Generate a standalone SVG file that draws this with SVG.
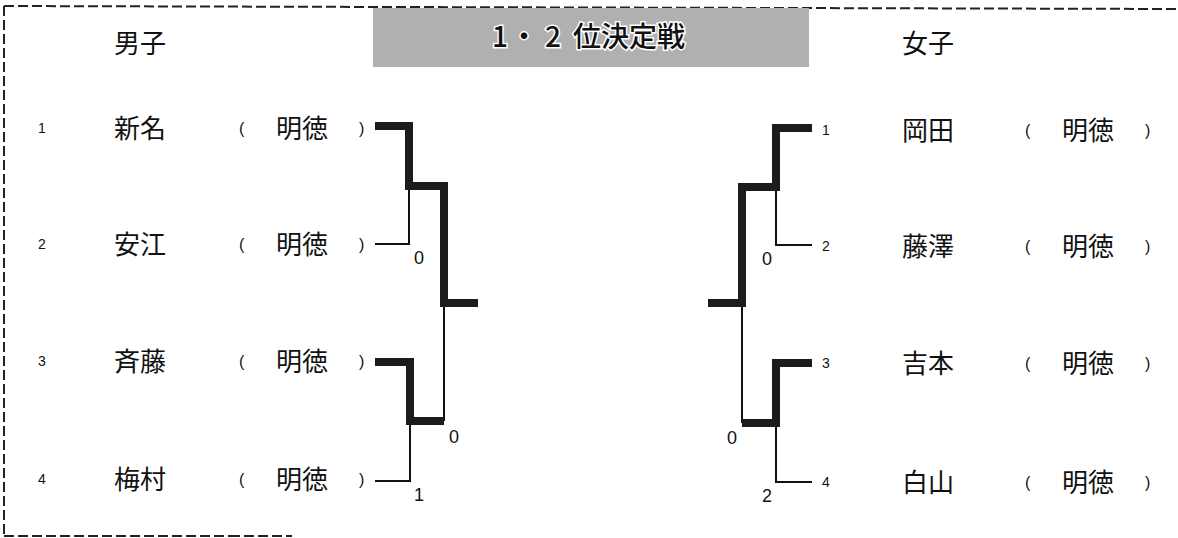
<svg xmlns="http://www.w3.org/2000/svg" width="1178" height="538" viewBox="0 0 1178 538">
<style>
.jp{font-family:"Noto Sans CJK JP","Noto Sans CJK SC",sans-serif;fill:#111}
.name{font-size:26px}
.par{font-family:"Liberation Sans",sans-serif;font-size:16px;fill:#111}
.num{font-family:"Liberation Sans",sans-serif;font-size:14px;fill:#111}
.score{font-family:"Liberation Sans",sans-serif;font-size:18px;fill:#111}
.thick{fill:none;stroke:#1c1c1c;stroke-width:8;stroke-linejoin:miter;stroke-linecap:butt}
.thin{fill:none;stroke:#111;stroke-width:2}
.border{fill:none;stroke:#222;stroke-width:2;stroke-dasharray:10 4}
</style>
<rect width="1178" height="538" fill="#fff"/>
<g id="frame">
<line class="border" x1="4" y1="6" x2="1178" y2="9"/>
<line class="border" x1="4" y1="6" x2="4" y2="536" stroke-dasharray="7 3"/>
<line class="border" x1="4" y1="536" x2="230" y2="536"/>
<line class="border" x1="230" y1="536" x2="292" y2="536" stroke="#aaa"/>
</g>
<g id="title">
<rect x="373" y="8" width="436" height="59" fill="#b0b0b0"/>
<text class="jp" font-size="28" font-weight="500" y="47" stroke="#fff" stroke-width="3" paint-order="stroke"><tspan x="492">1</tspan><tspan x="510">・</tspan><tspan x="545">2</tspan><tspan x="573">位決定戦</tspan></text>
</g>
<g id="header-boys"><text class="jp name" x="114" y="53">男子</text></g>
<g id="header-girls"><text class="jp name" x="902" y="53">女子</text></g>
<g id="boy1"><text class="num" x="38" y="133">1</text><text class="jp name" x="114" y="138">新名</text><text class="par" x="239" y="134">(</text><text class="jp name" x="276" y="138">明徳</text><text class="par" x="359" y="134">)</text></g>
<g id="boy2"><text class="num" x="38" y="249">2</text><text class="jp name" x="114" y="254">安江</text><text class="par" x="239" y="250">(</text><text class="jp name" x="276" y="254">明徳</text><text class="par" x="359" y="250">)</text></g>
<g id="boy3"><text class="num" x="38" y="366">3</text><text class="jp name" x="114" y="371">斉藤</text><text class="par" x="239" y="367">(</text><text class="jp name" x="276" y="371">明徳</text><text class="par" x="359" y="367">)</text></g>
<g id="boy4"><text class="num" x="38" y="484">4</text><text class="jp name" x="114" y="489">梅村</text><text class="par" x="239" y="485">(</text><text class="jp name" x="276" y="489">明徳</text><text class="par" x="359" y="485">)</text></g>
<g id="girl1"><text class="num" x="822" y="135">1</text><text class="jp name" x="902" y="140">岡田</text><text class="par" x="1025" y="136">(</text><text class="jp name" x="1062" y="140">明徳</text><text class="par" x="1145" y="136">)</text></g>
<g id="girl2"><text class="num" x="822" y="251">2</text><text class="jp name" x="902" y="256">藤澤</text><text class="par" x="1025" y="252">(</text><text class="jp name" x="1062" y="256">明徳</text><text class="par" x="1145" y="252">)</text></g>
<g id="girl3"><text class="num" x="822" y="368">3</text><text class="jp name" x="902" y="373">吉本</text><text class="par" x="1025" y="369">(</text><text class="jp name" x="1062" y="373">明徳</text><text class="par" x="1145" y="369">)</text></g>
<g id="girl4"><text class="num" x="822" y="487">4</text><text class="jp name" x="902" y="492">白山</text><text class="par" x="1025" y="488">(</text><text class="jp name" x="1062" y="492">明徳</text><text class="par" x="1145" y="488">)</text></g>
<g id="connectors">
<polyline class="thin" points="409,186 409,244 375,244"/>
<polyline class="thin" points="444,303 444,421"/>
<polyline class="thin" points="410,421 410,481 375,481"/>
<polyline class="thick" points="375,126 409,126 409,186 444,186 444,303 478,303"/>
<polyline class="thick" points="375,362 410,362 410,421 444,421"/>
<polyline class="thin" points="776,187 776,245 812,245"/>
<polyline class="thin" points="742,303 742,423"/>
<polyline class="thin" points="776,423 776,482 812,482"/>
<polyline class="thick" points="812,128 776,128 776,187 742,187 742,303 708,303"/>
<polyline class="thick" points="812,363 776,363 776,423 742,423"/>
</g>
<g id="scores">
<text class="score" x="414" y="264">0</text>
<text class="score" x="449" y="443">0</text>
<text class="score" x="414" y="501">1</text>
<text class="score" x="762" y="265">0</text>
<text class="score" x="727" y="444">0</text>
<text class="score" x="762" y="502">2</text>
</g>
</svg>
